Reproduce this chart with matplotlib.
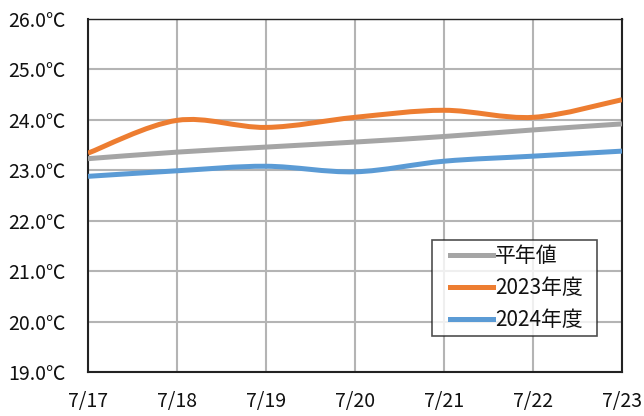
import matplotlib
matplotlib.use("Agg")
import matplotlib.pyplot as plt
from matplotlib.path import Path
from matplotlib.patches import PathPatch
from matplotlib.lines import Line2D
from matplotlib.legend_handler import HandlerLine2D
import numpy as np

plt.rcParams['font.family'] = ['Noto Sans CJK JP', 'DejaVu Sans']

dates = ['7/17', '7/18', '7/19', '7/20', '7/21', '7/22', '7/23']
normal = [23.23, 23.36, 23.46, 23.56, 23.67, 23.80, 23.92]
y2023 = [23.34, 23.99, 23.85, 24.05, 24.19, 24.05, 24.40]
y2024 = [22.88, 22.99, 23.08, 22.97, 23.18, 23.28, 23.38]
yticks = [19.0, 20.0, 21.0, 22.0, 23.0, 24.0, 25.0, 26.0]
series = [('平年値', normal, '#A5A5A5'),
          ('2023年度', y2023, '#ED7D31'),
          ('2024年度', y2024, '#5B9BD5')]

fig = plt.figure(figsize=(6.44, 4.16), dpi=100)
ax = fig.add_axes([88/644, 1-372/416, (622-88)/644, (372-19)/416])

def smooth_path(xs, ys):
    pts = np.column_stack([xs, ys]).astype(float)
    n = len(pts)
    verts = [pts[0]]
    codes = [Path.MOVETO]
    for i in range(n-1):
        p0 = pts[i-1] if i > 0 else pts[i]
        p1 = pts[i]
        p2 = pts[i+1]
        p3 = pts[i+2] if i+2 < n else pts[i+1]
        c1 = p1 + (p2 - p0) / 6.0
        c2 = p2 - (p3 - p1) / 6.0
        verts += [c1, c2, p2]
        codes += [Path.CURVE4]*3
    return Path(verts, codes)

x = np.arange(len(dates))
handles = []
for label, vals, col in series:
    patch = PathPatch(smooth_path(x, vals), facecolor='none', edgecolor=col,
                      lw=3.6, capstyle='butt', joinstyle='round', zorder=3)
    ax.add_patch(patch)
    handles.append(Line2D([0], [0], color=col, lw=3.6, label=label))

ax.set_xlim(0, len(dates)-1)
ax.set_ylim(19, 26)
ax.set_xticks(x)
ax.set_xticklabels(dates)
ax.set_yticks(yticks)
ax.set_yticklabels([f'{v:.1f}℃' for v in yticks])
ax.grid(True, color='#B4B4B4', lw=1.5, zorder=1)
ax.tick_params(length=0, labelsize=14, colors='#111111')
ax.tick_params(axis='y', pad=16)
ax.tick_params(axis='x', pad=14)
for s in ax.spines.values():
    s.set_color('#222222')
ax.spines['left'].set_linewidth(1.5)
ax.spines['bottom'].set_linewidth(1.5)
ax.spines['right'].set_linewidth(1.5)
ax.spines['top'].set_linewidth(1.0)

hm = {h: HandlerLine2D(xpad=0.61) for h in handles}
leg = ax.legend(handles=handles, loc='upper left',
                bbox_to_anchor=(0.644, 0.099, 0.309, 0.275), mode='expand',
                fontsize=15, frameon=True, fancybox=False, handler_map=hm,
                edgecolor='#222222', handlelength=2.68, handletextpad=0.1,
                borderpad=0.25, labelspacing=0.48, borderaxespad=0)
leg.get_frame().set_linewidth(1.2)
for t in leg.get_texts():
    t.set_color('#111111')

fig.savefig('out.png', dpi=100)
